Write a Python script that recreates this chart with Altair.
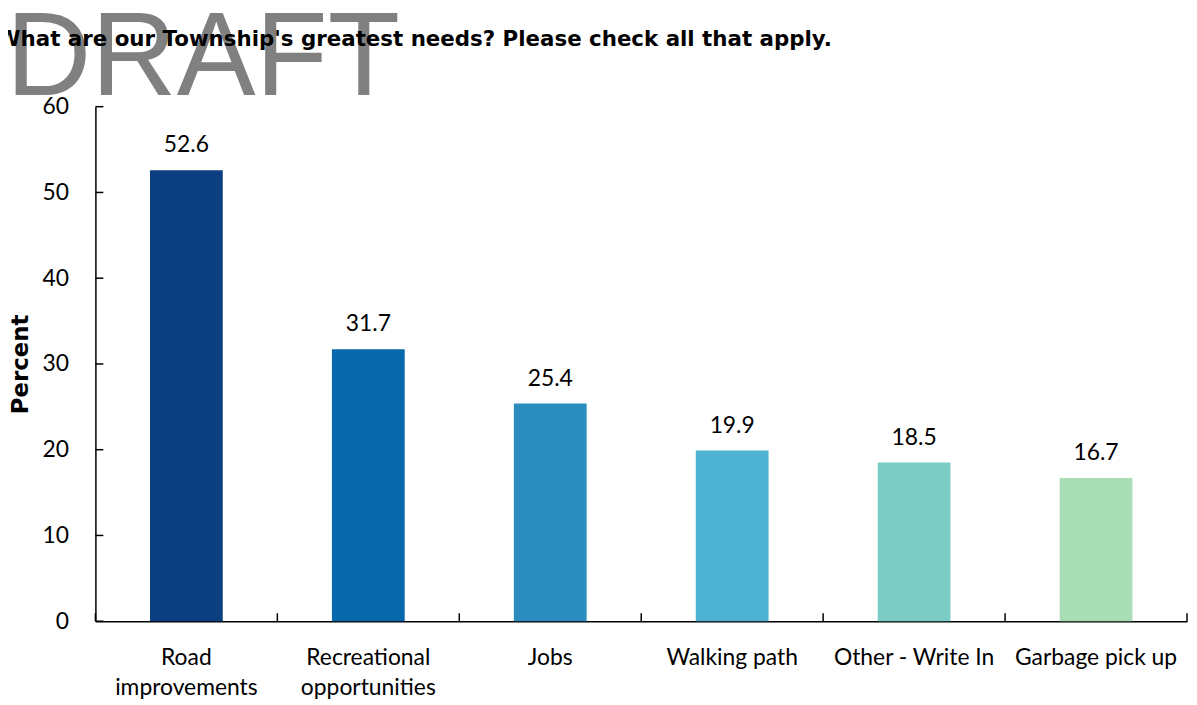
import altair as alt
import pandas as pd

categories = ["Road\nimprovements", "Recreational\nopportunities", "Jobs",
              "Walking path", "Other - Write In", "Garbage pick up"]
values = [52.6, 31.7, 25.4, 19.9, 18.5, 16.7]
colors = ["#0b3f80", "#0868ac", "#2b8cbe", "#4eb3d3", "#7bccc4", "#a8ddb5"]
y_ticks = [0, 10, 20, 30, 40, 50, 60]
title_text = "What are our Township's greatest needs? Please check all that apply."
watermark = "DRAFT"

df = pd.DataFrame({"cat": categories, "pct": values, "color": colors})
ytick_df = pd.DataFrame({"pct": y_ticks})
end_df = pd.DataFrame({"cat": [categories[-1]]})

W, H = 1099, 518
FONT = "Lato"
TICK = 8

x_scale = alt.Scale(domain=categories, paddingInner=0.6, paddingOuter=0.3)
x_edge_scale = alt.Scale(domain=categories, paddingInner=0, paddingOuter=0)
y_scale = alt.Scale(domain=[0, 60], nice=False)

y_axis = alt.Axis(title="Percent", values=y_ticks, grid=False, ticks=False,
                  domainColor="black", domainWidth=1.5, labelFont=FONT,
                  labelFontSize=23, labelColor="black", labelPadding=27,
                  titleFont="DejaVu Sans", titleFontSize=23,
                  titleFontWeight="bold", titleColor="black",
                  titleX=-75, titleY=H / 2, titleAlign="center",
                  titleBaseline="middle", titleAngle=-90)

base = alt.Chart(df)

bars = base.mark_bar().encode(
    x=alt.X("cat:N", sort=categories, scale=x_scale,
            axis=alt.Axis(title=None, labelExpr="split(datum.label, '\\n')",
                          labelAngle=0, ticks=False, domainColor="black",
                          domainWidth=1.5, labelFont=FONT, labelFontSize=23,
                          labelColor="black", labelLineHeight=30,
                          labelPadding=26, labelLimit=300)),
    y=alt.Y("pct:Q", scale=y_scale, axis=y_axis, title="Percent"),
    color=alt.Color("color:N", scale=None),
)

labels = base.mark_text(font=FONT, fontSize=23, color="black",
                        baseline="alphabetic", dy=-18).encode(
    x=alt.X("cat:N", sort=categories, scale=x_scale, axis=None),
    y=alt.Y("pct:Q", scale=y_scale, axis=y_axis, title="Percent"),
    text=alt.Text("pct:Q", format=".1f"),
)

xticks = base.mark_rule(color="black", strokeWidth=1.5).encode(
    x=alt.X("cat:N", sort=categories, scale=x_edge_scale, bandPosition=0, axis=None),
    y=alt.value(H), y2=alt.value(H - TICK),
)

xtick_end = alt.Chart(end_df).mark_rule(color="black", strokeWidth=1.5).encode(
    x=alt.X("cat:N", sort=categories, scale=x_edge_scale, bandPosition=1, axis=None),
    y=alt.value(H), y2=alt.value(H - TICK),
)

yticks = alt.Chart(ytick_df).mark_rule(color="black", strokeWidth=1.5).encode(
    y=alt.Y("pct:Q", scale=y_scale, axis=y_axis, title="Percent"),
    x=alt.value(0), x2=alt.value(TICK),
)

draft = alt.Chart(pd.DataFrame({"t": [watermark]})).mark_text(
    font="Liberation Sans", fontSize=119, color="#808080", align="left",
    baseline="alphabetic").encode(
    text="t:N", x=alt.value(-90), y=alt.value(-12))

title = alt.Chart(pd.DataFrame({"t": [title_text]})).mark_text(
    font="DejaVu Sans", fontSize=21.5, fontWeight="bold", color="black",
    align="left", baseline="alphabetic").encode(
    text="t:N", x=alt.value(-99), y=alt.value(-61))

chart = alt.layer(bars, labels, xticks, xtick_end, yticks, draft, title).resolve_scale(
    x="independent"
).properties(
    width=W, height=H,
    autosize=alt.AutoSizeParams(type="none"),
    padding={"left": 88, "top": 97, "right": 2, "bottom": 82},
).configure_view(stroke=None)

chart.save("out.html", embed_options={"renderer": "svg", "actions": False})
